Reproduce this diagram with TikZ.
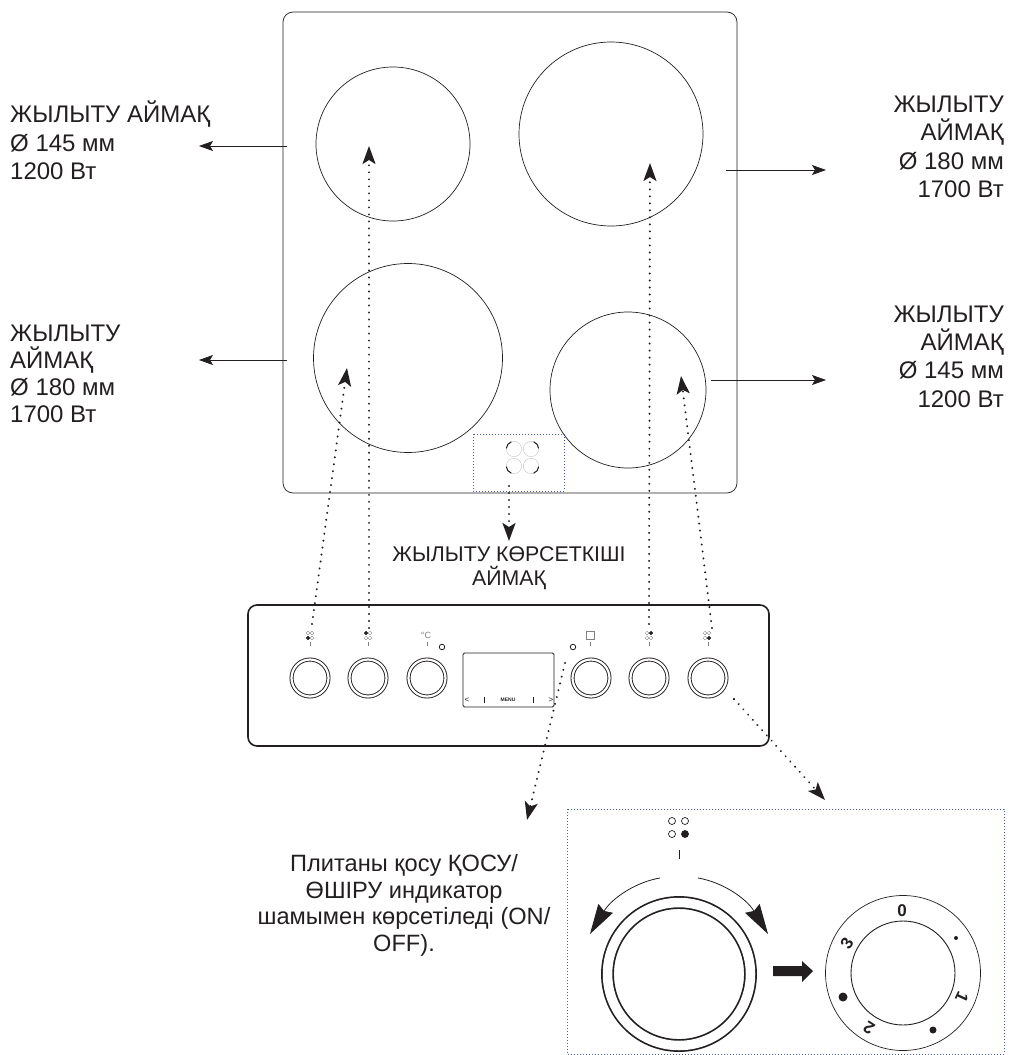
\documentclass[tikz,border=0pt]{standalone}
\usepackage{fontspec}
\setmainfont{Liberation Sans}
\usetikzlibrary{arrows.meta}
\definecolor{ink}{RGB}{35,31,32}
\definecolor{frameblue}{RGB}{70,95,180}
\tikzset{
  lblleft/.style={font=\fontsize{24pt}{28.4pt}\selectfont,align=left,inner sep=0pt,anchor=north west},
  lblright/.style={font=\fontsize{24pt}{28.4pt}\selectfont,align=right,inner sep=0pt,anchor=north east},
  lblmid/.style={align=center,inner sep=0pt,anchor=north},
  zone/.style={draw,circle,line width=0.7pt,inner sep=0pt,minimum size=#1},
  knob/.style={draw,circle,line width=0.9pt,double,double distance=2.2pt,inner sep=0pt,minimum size=37pt},
  bigknob/.style={draw,circle,line width=1.7pt,double,double distance=9.5pt,inner sep=0pt,minimum size=143pt},
  lamp/.style={draw=gray,circle,line width=0.3pt,inner sep=0pt,minimum size=3.6pt},
  lampon/.style={draw,circle,fill,line width=0.3pt,inner sep=0pt,minimum size=3.6pt},
  biglamp/.style={draw,circle,line width=0.7pt,inner sep=0pt,minimum size=7pt},
  biglampon/.style={biglamp,fill},
  ptr/.style={-{Stealth[length=14pt,width=10pt,inset=3pt]},line width=0.7pt},
  dots/.style={-{Stealth[length=18pt,width=13pt,inset=4pt]},line width=2.2pt,line cap=round,dash pattern=on 0.01pt off 7pt},
  frame/.style={draw=frameblue,line width=0.7pt,dash pattern=on 1pt off 2pt},
  ring/.style={gray!50,line width=0.35pt},
  ringarc/.style={line width=1pt},
  digit/.style={font=\fontsize{17pt}{17pt}\selectfont\bfseries,inner sep=0pt},
  tick/.style={gray,line width=0.4pt},
  swing/.style={-{Stealth[length=30pt,width=17pt,inset=3pt]},line width=0.8pt},
}
\begin{document}
\begin{tikzpicture}[x=1pt,y=-1pt,color=ink]
\useasboundingbox (0,0) rectangle (1009,1055);
% hob
\draw[line width=0.7pt,rounded corners=10pt] (283,12) rectangle (737,493);
\node[zone=154pt] (zoneA) at (393,144) {};
\node[zone=184pt] (zoneB) at (611,134) {};
\node[zone=189pt] (zoneC) at (408,358) {};
\node[zone=156pt] (zoneD) at (628,390) {};
% heat indicator field
\draw[frame] (473,434) rectangle (564,491);
\draw[ring] (514,449) circle (7.7);
\draw[ring] (531,449) circle (7.7);
\draw[ring] (514,466) circle (7.7);
\draw[ring] (531,466) circle (7.7);
\draw[ringarc] (514,449) ++(185:7.7) arc[start angle=185,end angle=250,radius=7.7];
\draw[ringarc] (531,449) ++(290:7.7) arc[start angle=290,end angle=355,radius=7.7];
\draw[ringarc] (514,466) ++(110:7.7) arc[start angle=110,end angle=175,radius=7.7];
\draw[ringarc] (531,466) ++(5:7.7) arc[start angle=5,end angle=70,radius=7.7];
% labels
\node[lblleft] (lblA) at (10,101) {ЖЫЛЫТУ АЙМАҚ\\Ø 145 мм\\1200 Вт};
\node[lblleft,font=\fontsize{24pt}{27.2pt}\selectfont] (lblC) at (10,324.5) {ЖЫЛЫТУ\\АЙМАҚ\\Ø 180 мм\\1700 Вт};
\node[lblright] (lblB) at (1004,95.8) {ЖЫЛЫТУ\\АЙМАҚ\\Ø 180 мм\\1700 Вт};
\node[lblright] (lblD) at (1004,305.3) {ЖЫЛЫТУ\\АЙМАҚ\\Ø 145 мм\\1200 Вт};
\node[lblmid,font=\fontsize{21.3pt}{24.3pt}\selectfont] (lblHeat) at (509,546.2) {ЖЫЛЫТУ КӨРСЕТКІШІ\\АЙМАҚ};
\node[lblmid,font=\fontsize{23.6pt}{26.9pt}\selectfont] (lblPower) at (404,853.8) {Плитаны қосу ҚОСУ/\\ӨШІРУ индикатор\\шамымен көрсетіледі (ON/\\OFF).};
% thin pointers
\coordinate (ptrAstart) at (287,146);
\coordinate (ptrAend) at (199,146);
\coordinate (ptrCstart) at (287,360);
\coordinate (ptrCend) at (199,360);
\coordinate (ptrBstart) at (726,170);
\coordinate (ptrBend) at (826,170);
\coordinate (ptrDstart) at (711,380);
\coordinate (ptrDend) at (826,380);
\draw[ptr] (ptrAstart) -- (ptrAend);
\draw[ptr] (ptrCstart) -- (ptrCend);
\draw[ptr] (ptrBstart) -- (ptrBend);
\draw[ptr] (ptrDstart) -- (ptrDend);
% control panel
\draw[line width=1.6pt,rounded corners=9pt] (248,605) rectangle (769,746);
\node[knob] (knobA) at (310,678) {};
\node[knob] (knobB) at (368,678) {};
\node[knob] (knobC) at (427,678) {};
\node[knob] (knobD) at (591,678) {};
\node[knob] (knobE) at (649,678) {};
\node[knob] (knobF) at (708,678) {};
\node[lamp] (lampA1) at (308,633) {};
\node[lamp] (lampA2) at (312,633) {};
\node[lampon] (lampA3) at (308,638) {};
\node[lamp] (lampA4) at (312,638) {};
\node[lampon] (lampB1) at (366,633) {};
\node[lamp] (lampB2) at (370,633) {};
\node[lamp] (lampB3) at (366,638) {};
\node[lamp] (lampB4) at (370,638) {};
\node[lamp] (lampE1) at (647,633) {};
\node[lampon] (lampE2) at (651,633) {};
\node[lamp] (lampE3) at (647,638) {};
\node[lamp] (lampE4) at (651,638) {};
\node[lamp] (lampF1) at (705,633) {};
\node[lamp] (lampF2) at (709,633) {};
\node[lamp] (lampF3) at (705,638) {};
\node[lampon] (lampF4) at (709,638) {};
\draw[tick] (310,642) -- (310,646);
\draw[tick] (368,642) -- (368,646);
\draw[tick] (427,642) -- (427,646);
\draw[tick] (590,642) -- (590,646);
\draw[tick] (649,642) -- (649,646);
\draw[tick] (708,642) -- (708,646);
\node[gray,font=\fontsize{9pt}{9pt}\selectfont,inner sep=0pt] (tempmark) at (426,635) {°C};
\draw[gray,line width=0.5pt] (586,631) rectangle (594,639);
\node[draw,circle,line width=0.8pt,inner sep=0pt,minimum size=5.5pt] (ledA) at (442,647) {};
\node[draw,circle,line width=0.8pt,inner sep=0pt,minimum size=5.5pt] (ledB) at (573,647) {};
% display
\draw[line width=0.8pt,rounded corners=1.5pt] (463,653) rectangle (554,707);
\node[font=\fontsize{5pt}{5pt}\selectfont\bfseries,inner sep=0pt] (menu) at (508,700) {MENU};
\node[font=\fontsize{8pt}{8pt}\selectfont,inner sep=0pt] (prev) at (467,700) {<};
\node[font=\fontsize{8pt}{8pt}\selectfont,inner sep=0pt] (next) at (551,700) {>};
\draw[line width=0.7pt] (484,697) -- (484,703);
\draw[line width=0.7pt] (533,697) -- (533,703);
% dotted leaders
\coordinate (dotAstart) at (312,624);
\coordinate (dotAtip) at (347,368);
\coordinate (dotBstart) at (369,628);
\coordinate (dotBtip) at (369,146);
\coordinate (dotEstart) at (649,624);
\coordinate (dotEtip) at (650,163);
\coordinate (dotFstart) at (712,628);
\coordinate (dotFtip) at (681,376);
\coordinate (dotLedstart) at (565,663);
\coordinate (dotLedtip) at (527,820);
\coordinate (dotKnobstart) at (734,699);
\coordinate (dotKnobtip) at (825,800);
\coordinate (dotHeatstart) at (509,486);
\coordinate (dotHeattip) at (509,541);
\draw[dots] (dotAstart) -- (dotAtip);
\draw[dots] (dotBstart) -- (dotBtip);
\draw[dots] (dotEstart) -- (dotEtip);
\draw[dots] (dotFstart) -- (dotFtip);
\draw[dots] (dotLedstart) -- (dotLedtip);
\draw[dots] (dotKnobstart) -- (dotKnobtip);
\draw[dots] (dotHeatstart) -- (dotHeattip);
% enlarged knob
\draw[frame] (567,809) rectangle (1004,1054);
\node[biglamp] (bigA) at (672,821) {};
\node[biglamp] (bigB) at (685,821) {};
\node[biglamp] (bigC) at (672,834) {};
\node[biglampon] (bigD) at (685,834) {};
\draw[line width=0.7pt] (679,850) -- (679,859);
\node[bigknob] (bigknobA) at (679,974) {};
\coordinate (swingLstart) at (660,878);
\coordinate (swingLtip) at (590,934);
\coordinate (swingRstart) at (698,878);
\coordinate (swingRtip) at (768,934);
\draw[swing] (swingLstart) .. controls (636,882) and (612,898) .. (swingLtip);
\draw[swing] (swingRstart) .. controls (722,882) and (746,898) .. (swingRtip);
\fill (773,966) -- (802,966) -- (802,961) -- (813,971) -- (802,982) -- (802,976) -- (773,976) -- cycle;
% dial
\node[zone=155pt] (dialOut) at (903,973) {};
\node[zone=104pt,line width=0.9pt] (dialIn) at (903,973) {};
\node[digit] (digitZero) at (902,911) {0};
\node[digit,rotate=-115] (digitOne) at (962,997) {1};
\node[digit,rotate=148] (digitTwo) at (869,1028) {2};
\node[digit,rotate=58] (digitThree) at (847,943) {3};
\fill (956,938) circle (2);
\fill (933,1030) circle (3.5);
\fill (843,997) circle (4.5);
\end{tikzpicture}
\end{document}
